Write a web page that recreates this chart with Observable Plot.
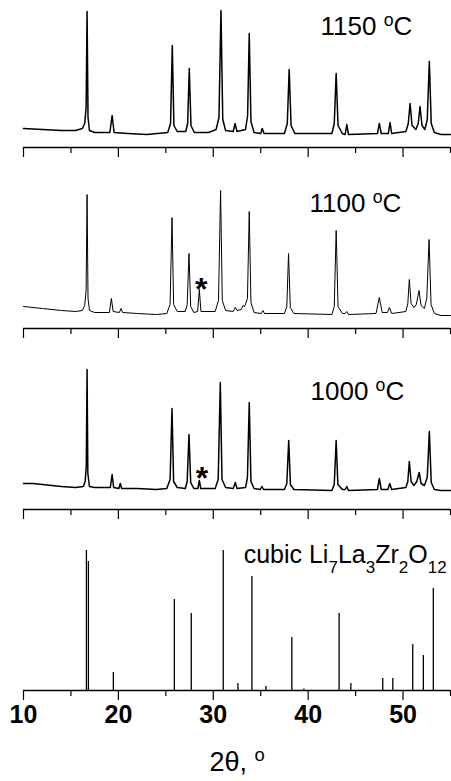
<!DOCTYPE html>
<html><head><meta charset="utf-8">
<script src="https://cdn.jsdelivr.net/npm/d3@7"></script>
<script src="https://cdn.jsdelivr.net/npm/@observablehq/plot@0.6"></script>
<style>
body{margin:0;background:#fff;}
#chart svg{display:block;}
</style></head><body><div id="chart"></div>
<script>
// XRD patterns: [2θ (deg), intensity (a.u.)]
const spec1150 = [[10,19],[12,18],[14,17],[15.5,17],[16.2,19],[16.45,24],[16.6,40],[16.7,136],[16.8,30],[16.95,17],[17.5,15],[19.1,15],[19.34,32],[19.55,15],[21,14],[23,13],[25.2,15],[25.5,24],[25.68,102],[25.85,22],[26.2,16],[27.1,16],[27.3,24],[27.47,79],[27.65,22],[28,15],[29.5,15],[30.3,18],[30.6,30],[30.81,137],[31.0,28],[31.3,17],[32.1,16],[32.3,24],[32.5,16],[33.4,18],[33.62,32],[33.79,114],[33.97,26],[34.3,15],[35.0,14],[35.16,19],[35.35,14],[37.5,14],[37.8,24],[38.0,78],[38.2,22],[38.6,14],[42.5,14],[42.75,24],[42.95,74],[43.15,22],[43.6,14],[43.9,13],[44.07,23],[44.25,13],[47.3,14],[47.5,24],[47.7,14],[48.45,14],[48.63,25],[48.8,14],[50.3,16],[50.55,24],[50.74,44],[50.95,22],[51.15,20],[51.35,18],[51.6,24],[51.79,41],[52.0,22],[52.3,18],[52.55,28],[52.77,86],[52.97,24],[53.3,15],[54,13],[55,13]];
const spec1100 = [[10,22],[11,21],[12,20],[13,19],[14,18],[15.5,17],[16.2,18],[16.45,23],[16.6,38],[16.7,134],[16.8,30],[16.95,18],[17.5,16],[19.05,16],[19.26,30],[19.45,17],[20.1,16],[20.28,20],[20.45,16],[22,15],[24,14],[25.1,15],[25.45,24],[25.65,111],[25.82,24],[26.2,17],[27.05,17],[27.25,24],[27.44,75],[27.62,22],[27.95,16],[28.35,17],[28.53,39],[28.7,17],[30.2,17],[30.55,28],[30.77,138],[30.95,28],[31.3,18],[32.1,17],[32.32,21],[32.5,18],[32.95,19],[33.13,23],[33.3,22],[33.6,30],[33.79,117],[33.97,26],[34.3,16],[35.05,15],[35.23,18],[35.4,15],[37.5,15],[37.75,22],[37.93,75],[38.12,21],[38.5,15],[42.5,14],[42.75,22],[42.95,98],[43.15,22],[43.6,15],[43.9,15],[44.07,17],[44.25,14],[47.15,15],[47.5,31],[47.8,16],[48.35,16],[48.56,21],[48.8,15],[50.3,17],[50.5,25],[50.66,49],[50.85,25],[51.15,21],[51.4,24],[51.68,38],[51.9,23],[52.25,20],[52.5,30],[52.74,89],[52.95,24],[53.3,15],[54,13],[55,13]];
const spec1000 = [[10,26],[11,26],[12,25],[13,24],[14,23],[15.5,22],[16.3,23],[16.5,28],[16.62,45],[16.7,140],[16.78,36],[16.95,23],[17.5,22],[19.15,22],[19.34,35],[19.5,22],[20.05,21],[20.2,26],[20.35,21],[22,21],[24,20],[25.1,21],[25.45,30],[25.65,101],[25.82,28],[26.2,22],[27.05,21],[27.25,28],[27.44,75],[27.62,27],[27.95,21],[28.38,21],[28.53,29],[28.68,21],[30.2,21],[30.52,30],[30.74,127],[30.92,30],[31.3,22],[32.1,21],[32.32,27],[32.5,21],[33.4,22],[33.6,32],[33.79,107],[33.97,28],[34.3,21],[34.95,20],[35.12,23],[35.3,20],[37.5,20],[37.75,26],[37.95,69],[38.13,25],[38.5,20],[42.5,19],[42.75,25],[42.95,69],[43.13,25],[43.6,20],[43.9,20],[44.07,23],[44.25,19],[47.3,20],[47.5,31],[47.7,20],[48.4,20],[48.6,26],[48.8,20],[50.3,22],[50.5,28],[50.66,48],[50.85,28],[51.15,24],[51.45,28],[51.7,37],[51.9,26],[52.25,24],[52.55,32],[52.77,78],[52.97,27],[53.3,20],[54,19],[55,19]];

// Reference pattern (cubic Li7La3Zr2O12) sticks
const stickTheta = [16.63,16.84,19.47,25.9,27.68,31.05,32.6,34.07,35.55,38.28,39.55,43.26,44.5,47.86,48.92,51.02,52.14,53.19];
const stickIntensity = [140,129,18,91,77,140,7,114,4,53,1.5,77,7,12,12,46,35,102];

// Text
const panelLabels = ["1150 {^o}C", "1100 {^o}C", "1000 {^o}C"];
const labelTheta = [41.3, 40.15, 40.25];
const labelIntensity = [113, 117, 110];
const impurityMark = "*";
const impurityTheta = [28.74, 28.81];      // 1100 °C, 1000 °C panels
const impurityIntensity = [28.6, 20.6];
const refLabel = "cubic Li{_7}La{_3}Zr{_2}O{_12}";
const refLabelTheta = 33.2, refLabelIntensity = 128;
const majorTicks = [10, 20, 30, 40, 50];
const minorTicks = [15, 25, 35, 45, 55];
const xTitle = "2θ, {^o}";

const FONT = "'Liberation Sans', Arial, Helvetica, sans-serif";

function panel(marks, last) {
  return Plot.plot({
    width: 451, height: last ? 238 : 181,
    marginLeft: 23, marginRight: 1, marginTop: 0, marginBottom: last ? 91 : 34,
    x: {domain: [10, 55]},
    y: {domain: [0, 147], axis: null},
    style: {fontFamily: FONT, background: "white", color: "black", overflow: "visible"},
    marks: [
      ...marks,
      Plot.ruleY([0], {strokeWidth: 1.3}),
      Plot.axisX({ticks: majorTicks, tickSize: 10, tickPadding: 5, tickFormat: last ? d => String(d) : () => "", label: null, fontSize: 25, fontWeight: "bold", strokeWidth: 1.2}),
      Plot.axisX({ticks: minorTicks, tickSize: 6, tickFormat: () => "", label: null, strokeWidth: 1.2})
    ]
  });
}

const lineOpts = (w) => ({x: d => d[0], y: d => d[1], strokeWidth: w, strokeLinejoin: "round"});
const labelMark = (i) => Plot.text([i], {x: [labelTheta[i]], y: [labelIntensity[i]], text: [panelLabels[i]], textAnchor: "start", lineAnchor: "bottom", fontSize: 26});
const starMark = (i) => Plot.text([i], {x: [impurityTheta[i]], y: [impurityIntensity[i]], text: [impurityMark], lineAnchor: "bottom", fontSize: 32, fontWeight: "bold"});

const svgs = [
  panel([Plot.line(spec1150, lineOpts(1.5)), labelMark(0)], false),
  panel([Plot.line(spec1100, lineOpts(1.0)), labelMark(1), starMark(0)], false),
  panel([Plot.line(spec1000, lineOpts(1.5)), labelMark(2), starMark(1)], false),
  panel([
    Plot.ruleX(stickTheta.map((t, i) => ({t, h: stickIntensity[i]})), {x: "t", y: "h", strokeWidth: 1.3}),
    Plot.text([0], {x: [refLabelTheta], y: [refLabelIntensity], text: [refLabel], textAnchor: "start", lineAnchor: "bottom", fontSize: 25}),
    Plot.text([0], {text: [xTitle], frameAnchor: "bottom", dy: 80, lineAnchor: "bottom", fontSize: 27})
  ], true)
];

const host = document.getElementById("chart");
for (const s of svgs) host.appendChild(s);

// Render super/subscripts as tspans
function richify(svg) {
  d3.select(svg).selectAll('g[aria-label="x-axis tick label"]').attr("font-weight", "bold").attr("font-size", 25);
  d3.select(svg).selectAll("text").each(function () {
    const s = this.textContent;
    if (!/\{[\^_]/.test(s)) return;
    const fs = parseFloat(getComputedStyle(this).fontSize) || 22;
    const el = d3.select(this);
    el.text("");
    let off = 0;
    for (const part of s.split(/(\{[\^_][^}]*\})/)) {
      if (!part) continue;
      const m = /^\{([\^_])([^}]*)\}$/.exec(part);
      if (m) {
        const sup = m[1] === "^";
        const shift = sup ? -0.34 * fs : 0.42 * fs;
        el.append("tspan").attr("font-size", 0.68 * fs).attr("dy", shift - off).text(m[2]);
        off = shift;
      } else {
        el.append("tspan").attr("dy", -off).text(part);
        off = 0;
      }
    }
  });
}
svgs.forEach(richify);
</script></body></html>
